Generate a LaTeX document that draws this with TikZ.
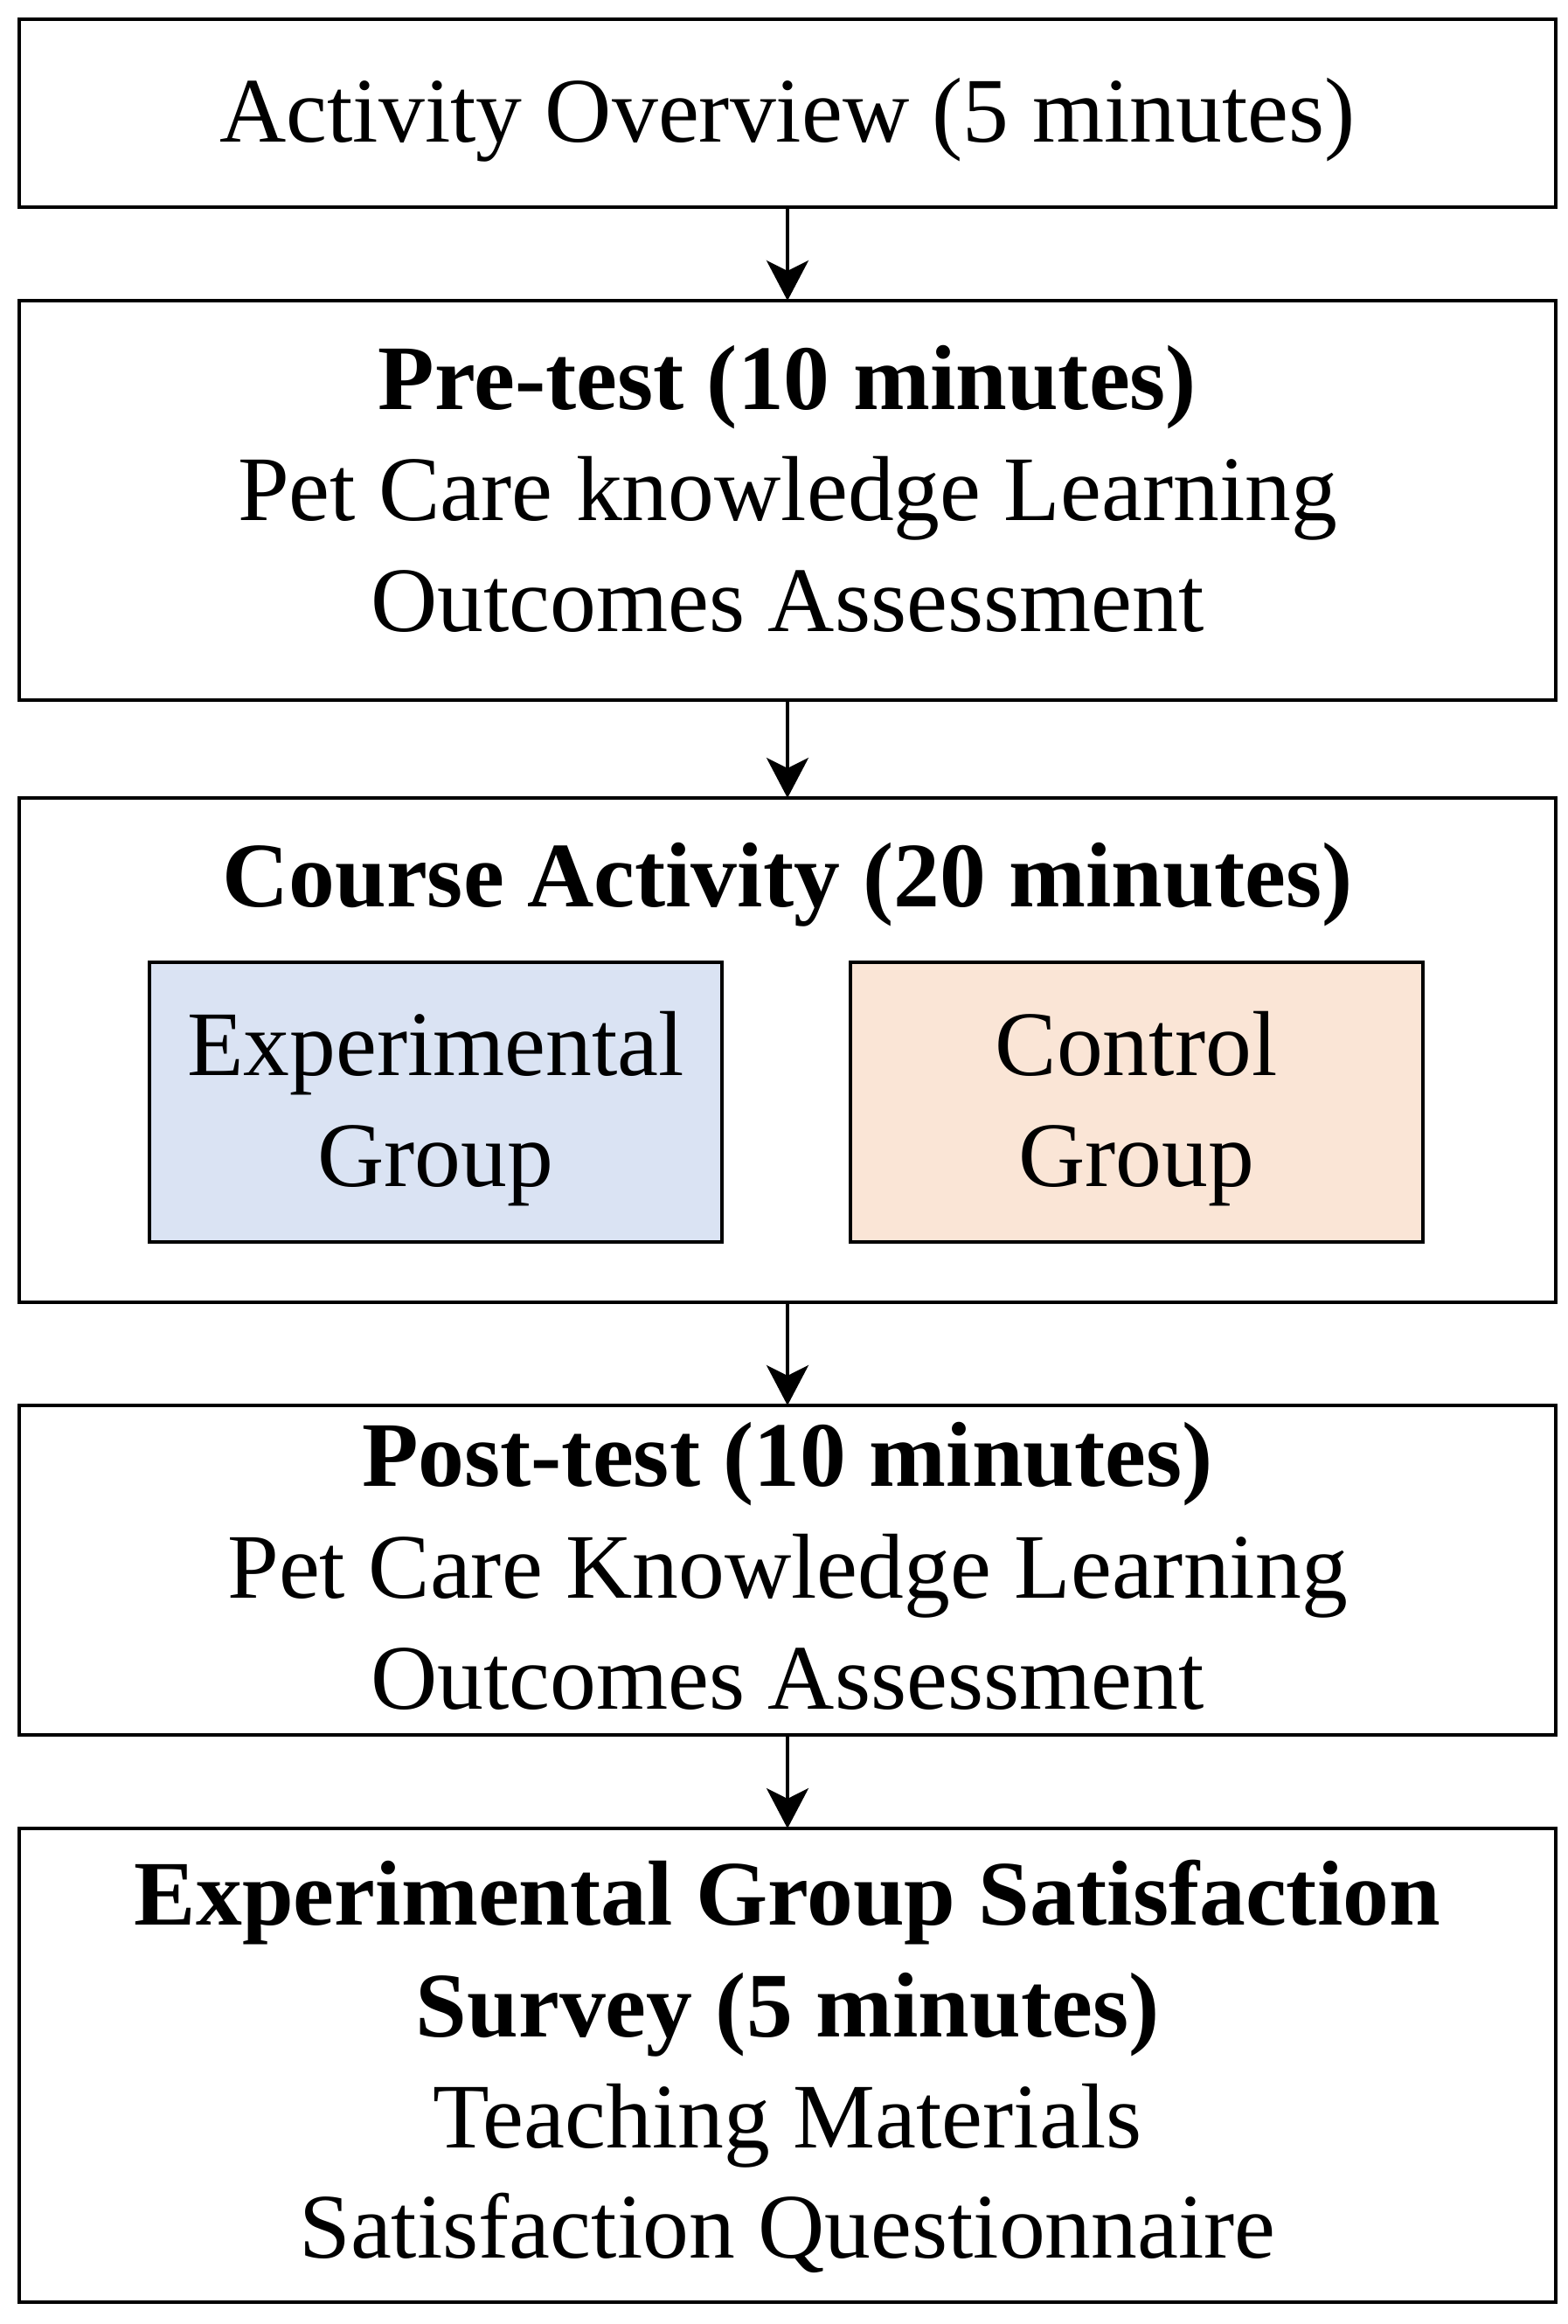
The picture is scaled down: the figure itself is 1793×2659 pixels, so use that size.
\documentclass[tikz,border=0pt]{standalone}
\usepackage{fontspec}
\setmainfont{Liberation Serif}
\usetikzlibrary{arrows.meta}
\begin{document}
\begin{tikzpicture}[x=0.25pt,y=-0.25pt,
  box/.style={draw=black,line width=1pt,inner sep=0pt,outer sep=0pt,minimum width=439.5pt},
  grp/.style={box,minimum width=163.75pt,minimum height=80pt},
  txt/.style={inner sep=0pt,anchor=base,font=\fontsize{26.4}{31.75}\selectfont},
  arr/.style={-{Stealth[length=11.5pt,width=12pt,inset=3pt]},line width=1pt}]
\useasboundingbox (0,0) rectangle (1793,2659);
\node[box,minimum height=53.75pt] (b1) at (901,129.5) {};
\node[box,minimum height=114.25pt] (b2) at (901,572.5) {};
\node[box,minimum height=144.25pt] (b3) at (901,1201.5) {};
\node[grp,fill={rgb,255:red,218;green,227;blue,243}] (exp) at (498.5,1261) {};
\node[grp,fill={rgb,255:red,250;green,229;blue,214}] (ctl) at (1300,1261) {};
\node[box,minimum height=94.25pt] (b4) at (901,1796.5) {};
\node[box,minimum height=135.5pt] (b5) at (901,2363) {};
% texts
\node[txt] (t1) at (901,162) {Activity Overview (5 minutes)};
\node[txt] (t2a) at (901,468) {\textbf{Pre-test (10 minutes)}};
\node[txt] (t2b) at (901,595) {Pet Care knowledge Learning};
\node[txt] (t2c) at (901,722) {Outcomes Assessment};
\node[txt] (t3) at (901,1037) {\textbf{Course Activity (20 minutes)}};
\node[txt] (te1) at (498.5,1230) {Experimental};
\node[txt] (te2) at (498.5,1357) {Group};
\node[txt] (tc1) at (1300,1230) {Control};
\node[txt] (tc2) at (1300,1357) {Group};
\node[txt] (t4a) at (901,1700) {\textbf{Post-test (10 minutes)}};
\node[txt] (t4b) at (901,1828) {Pet Care Knowledge Learning};
\node[txt] (t4c) at (901,1955) {Outcomes Assessment};
\node[txt] (t5a) at (901,2202) {\textbf{Experimental Group Satisfaction}};
\node[txt] (t5b) at (901,2330) {\textbf{Survey (5 minutes)}};
\node[txt] (t5c) at (901,2457) {Teaching Materials};
\node[txt] (t5d) at (901,2583) {Satisfaction Questionnaire};
\draw[arr] (b1.south) -- (b2.north);
\draw[arr] (b2.south) -- (b3.north);
\draw[arr] (b3.south) -- (b4.north);
\draw[arr] (b4.south) -- (b5.north);
\end{tikzpicture}
\end{document}
